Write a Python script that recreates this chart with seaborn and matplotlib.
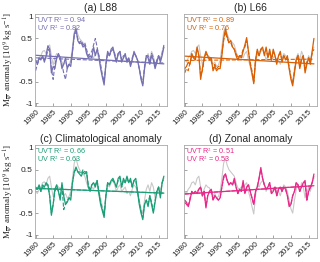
#! /usr/bin/env python3
import numpy as np
import seaborn as sns
import matplotlib as mpl
import matplotlib.pyplot as plt

# half-yearly time axis
years = np.arange(1980.0, 2017.0, 0.5)

# grey reference series (same in every panel)
grey = [0.0, -0.05, 0.05, 0.1, 0.2, 0.22, 0.15, 0.3, 0.35, 0.1,
        -0.12, 0.05, 0.15, 0.1, 0.08, -0.05, -0.1, -0.05, -0.15, -0.12,
        0.0, 0.3, 0.65, 0.77, 0.6, 0.5, 0.45, 0.4, 0.35, 0.2,
        0.08, 0.05, 0.1, 0.05, 0.15, 0.2, 0.0, -0.15, -0.35, -0.52,
        -0.1, 0.15, 0.1, 0.2, 0.25, 0.15, 0.0, 0.1, 0.15, 0.0,
        0.05, 0.1, -0.05, 0.0, -0.1, 0.05, 0.15, 0.1, 0.0, -0.2,
        -0.4, -0.5, -0.2, 0.05, 0.15, 0.0, 0.2, 0.1, -0.15, -0.05,
        0.1, 0.0, 0.2, 0.3]

# (a) L88
uvt_a = [0.0, -0.1, 0.05, 0.0, 0.1, -0.05, 0.1, 0.33, 0.25, -0.3,
         -0.15, -0.2, 0.05, 0.15, 0.05, -0.2, -0.1, 0.05, -0.2, -0.1,
         -0.15, 0.2, 0.6, 0.72, 0.45, 0.38, 0.4, 0.3, 0.35, 0.15,
         0.05, 0.1, 0.05, 0.3, 0.1, 0.25, 0.1, -0.2, -0.4, -0.58,
         -0.1, 0.2, 0.1, 0.25, 0.3, 0.1, -0.05, 0.15, 0.2, -0.05,
         0.05, 0.15, -0.05, 0.05, -0.15, 0.0, 0.2, 0.1, 0.0, -0.2,
         -0.45, -0.6, -0.2, 0.1, 0.05, -0.1, 0.1, 0.0, -0.2, -0.05,
         0.1, -0.05, 0.1, 0.3]
uv_a = [-0.25, -0.1, 0.0, 0.05, 0.05, 0.0, 0.05, 0.25, 0.2, -0.2,
        -0.45, -0.1, 0.05, 0.1, 0.0, -0.1, -0.3, -0.45, -0.2, -0.1,
        -0.1, 0.2, 0.55, 0.65, 0.5, 0.4, 0.45, 0.35, 0.4, 0.25,
        0.1, 0.15, 0.2, 0.35, 0.5, 0.3, 0.1, -0.1, -0.35, -0.5,
        -0.1, 0.15, 0.1, 0.2, 0.25, 0.15, 0.0, 0.15, 0.2, 0.0,
        0.1, 0.1, 0.0, 0.05, -0.1, 0.05, 0.15, 0.1, 0.0, -0.2,
        -0.4, -0.55, -0.15, 0.1, 0.1, -0.05, 0.15, 0.05, -0.15, 0.0,
        0.1, 0.0, 0.15, 0.35]

# (b) L66
uvt_b = [-0.2, -0.15, -0.05, -0.1, 0.15, 0.05, 0.0, 0.3, 0.1, -0.45,
         -0.2, 0.05, 0.2, 0.1, 0.0, 0.05, -0.25, -0.15, -0.25, -0.2,
         -0.2, 0.1, 0.5, 0.72, 0.55, 0.4, 0.45, 0.3, 0.25, 0.1,
         0.0, 0.1, 0.05, 0.2, 0.35, 0.52, 0.2, -0.1, -0.3, -0.55,
         0.0, 0.25, 0.1, 0.25, 0.3, 0.1, 0.3, 0.05, 0.25, 0.0,
         0.25, 0.1, -0.1, 0.1, 0.2, -0.05, 0.1, 0.0, 0.1, -0.2,
         -0.45, -0.6, -0.3, 0.0, 0.1, -0.2, 0.0, 0.1, -0.3, -0.1,
         0.05, -0.1, 0.2, 0.5]
uv_b = [-0.3, -0.2, -0.25, -0.05, 0.1, 0.05, 0.05, 0.25, 0.1, -0.35,
        -0.25, 0.0, 0.15, 0.05, 0.05, 0.0, -0.2, -0.1, -0.2, -0.15,
        -0.15, 0.15, 0.45, 0.65, 0.5, 0.4, 0.4, 0.3, 0.25, 0.15,
        0.05, 0.1, 0.1, 0.25, 0.3, 0.45, 0.2, -0.05, -0.25, -0.5,
        0.0, 0.2, 0.1, 0.25, 0.25, 0.15, 0.25, 0.05, 0.2, 0.0,
        0.2, 0.1, -0.05, 0.1, 0.15, 0.0, 0.1, 0.05, 0.05, -0.15,
        -0.4, -0.55, -0.25, 0.0, 0.1, -0.15, 0.05, 0.1, -0.25, -0.05,
        0.05, -0.05, 0.15, 0.25]

# (c) Climatological anomaly
uvt_c = [0.1, 0.05, 0.15, 0.0, 0.15, 0.1, 0.2, 0.15, -0.1, -0.55,
         -0.3, 0.05, 0.15, 0.0, -0.2, 0.2, -0.1, -0.3, -0.25, -0.15,
         -0.2, 0.2, 0.45, 0.56, 0.45, 0.4, 0.35, 0.45, 0.4, 0.45,
         0.1, 0.0, 0.15, 0.2, 0.1, 0.25, -0.05, -0.3, -0.45, -0.6,
         -0.1, 0.2, 0.15, 0.25, 0.3, 0.2, 0.1, 0.3, 0.35, 0.1,
         0.3, 0.2, 0.35, 0.2, 0.3, 0.1, 0.25, 0.3, 0.0, -0.3,
         -0.5, -0.65, -0.3, -0.2, -0.35, -0.1, -0.3, -0.5, -0.25, 0.0,
         0.1, -0.15, 0.2, 0.35]
uv_c = [0.05, 0.05, 0.1, 0.0, 0.1, 0.1, 0.15, 0.15, -0.1, -0.5,
        -0.3, 0.0, 0.1, 0.0, -0.15, 0.15, -0.42, -0.3, -0.2, -0.15,
        -0.15, 0.2, 0.45, 0.5, 0.45, 0.45, 0.4, 0.5, 0.45, 0.45,
        0.15, 0.05, 0.15, 0.2, 0.15, 0.25, 0.0, -0.25, -0.4, -0.55,
        -0.1, 0.2, 0.15, 0.25, 0.25, 0.2, 0.1, 0.25, 0.3, 0.1,
        0.25, 0.2, 0.3, 0.2, 0.25, 0.1, 0.25, 0.25, 0.0, -0.25,
        -0.45, -0.6, -0.3, -0.2, -0.3, -0.1, -0.25, -0.45, -0.2, 0.0,
        0.1, -0.1, 0.2, 0.3]

# (d) Zonal anomaly
uvt_d = [-0.2, -0.25, -0.35, -0.2, 0.0, -0.05, 0.0, -0.05, 0.05, 0.1,
         -0.1, 0.0, -0.38, -0.1, 0.0, 0.05, -0.2, -0.1, -0.15, -0.2,
         -0.15, 0.1, 0.35, 0.4, 0.25, 0.15, 0.2, 0.15, 0.3, 0.1,
         -0.05, 0.05, 0.0, 0.25, -0.05, 0.1, 0.15, 0.0, -0.15, -0.3,
         0.0, 0.1, 0.3, 0.55, 0.3, 0.15, 0.05, 0.1, 0.2, -0.05,
         0.0, 0.1, -0.1, 0.05, 0.1, 0.0, 0.1, 0.05, -0.1, -0.35,
         -0.3, -0.1, 0.0, 0.2, 0.15, 0.0, 0.1, 0.2, 0.25, -0.2,
         0.0, 0.1, 0.2, 0.4]
uv_d = [-0.25, -0.3, -0.35, -0.15, 0.0, -0.05, 0.0, 0.0, 0.05, 0.1,
        -0.1, 0.0, -0.35, -0.1, 0.0, 0.05, -0.2, -0.1, -0.15, -0.2,
        -0.15, 0.1, 0.3, 0.4, 0.25, 0.15, 0.2, 0.15, 0.25, 0.1,
        -0.05, 0.05, 0.0, 0.2, -0.05, 0.1, 0.15, 0.0, -0.15, -0.3,
        0.0, 0.1, 0.3, 0.5, 0.3, 0.15, 0.05, 0.1, 0.2, -0.05,
        0.0, 0.1, -0.1, 0.05, 0.1, 0.0, 0.1, 0.05, -0.1, -0.3,
        -0.3, -0.1, 0.0, 0.2, 0.15, 0.0, 0.1, 0.2, 0.2, -0.2,
        0.0, 0.1, 0.2, 0.35]

# linear trends (value at first and last year)
trend_years = [1980.0, 2016.5]
trend_uvt = {"a": [0.11, -0.09], "b": [0.09, -0.09], "c": [0.07, -0.04], "d": [-0.06, 0.13]}
trend_uv = {"a": [0.05, -0.07], "b": [-0.01, 0.02], "c": [0.07, -0.04], "d": [-0.06, 0.13]}

titles = {"a": "(a) L88", "b": "(b) L66", "c": "(c) Climatological anomaly", "d": "(d) Zonal anomaly"}
r2_uvt = {"a": 0.94, "b": 0.89, "c": 0.66, "d": 0.51}
r2_uv = {"a": 0.82, "b": 0.76, "c": 0.63, "d": 0.53}
series = {"a": (uvt_a, uv_a), "b": (uvt_b, uv_b), "c": (uvt_c, uv_c), "d": (uvt_d, uv_d)}
colours = {"a": "#7570b3", "b": "#d95f02", "c": "#1b9e77", "d": "#e7298a"}


def configure_plot():
    sns.set_theme(style="ticks")
    mpl.rcParams["font.family"] = ["Liberation Sans", "DejaVu Sans"]
    mpl.rcParams["mathtext.fontset"] = "stix"
    mpl.rcParams["xtick.direction"] = "in"
    mpl.rcParams["ytick.direction"] = "in"


def main():
    configure_plot()
    fig = plt.figure(figsize=(3.2, 2.62), dpi=100)
    boxes = {
        "a": [0.109, 0.595, 0.413, 0.352],
        "b": [0.575, 0.595, 0.416, 0.352],
        "c": [0.109, 0.092, 0.413, 0.355],
        "d": [0.575, 0.092, 0.416, 0.355],
    }
    for key, box in boxes.items():
        ax = fig.add_axes(box)
        col = colours[key]
        uvt, uv = series[key]
        sns.lineplot(x=years, y=grey, ax=ax, color="#c8c8c8", linewidth=0.8)
        sns.lineplot(x=years, y=uv, ax=ax, color=col, linewidth=0.8, linestyle="--")
        sns.lineplot(x=years, y=uvt, ax=ax, color=col, linewidth=0.9)
        sns.lineplot(x=trend_years, y=trend_uv[key], ax=ax, color=col, linewidth=0.8, linestyle="--")
        sns.lineplot(x=trend_years, y=trend_uvt[key], ax=ax, color=col, linewidth=0.9)

        ax.set_xlim(1979.8, 2017.4)
        ax.set_ylim(-1.07, 1.07)
        ax.set_xticks(range(1980, 2016, 5))
        ax.set_yticks([-1, -0.5, 0, 0.5, 1])
        ax.set_xticklabels([str(y) for y in range(1980, 2016, 5)], rotation=45,
                           ha="right", rotation_mode="anchor", fontsize=6)
        if key in ("a", "c"):
            ax.set_yticklabels(["-1", "-0.5", "0", "0.5", "1"], fontsize=6)
            ax.set_ylabel(r"M$_{\overline{\psi}}\ $ anomaly [10$^9$ kg s$^{-1}$]",
                          family="Liberation Serif", fontsize=6.5, labelpad=2)
        else:
            ax.set_yticklabels([])
        ax.tick_params(length=2, width=0.5, color="#808080", pad=1.5)
        for sp in ax.spines.values():
            sp.set_visible(True)
            sp.set_color("#a8a8a8")
            sp.set_linewidth(0.6)
        ax.set_title(titles[key], fontsize=7.5, pad=2)
        ax.text(1980.4, 0.93, "UVT R$^2$ = {:.2f}".format(r2_uvt[key]), color=col, fontsize=5.2, va="center")
        ax.text(1980.4, 0.74, "UV R$^2$ = {:.2f}".format(r2_uv[key]), color=col, fontsize=5.2, va="center")

    plt.savefig("out.png", dpi=100)


if __name__ == "__main__":
    main()
